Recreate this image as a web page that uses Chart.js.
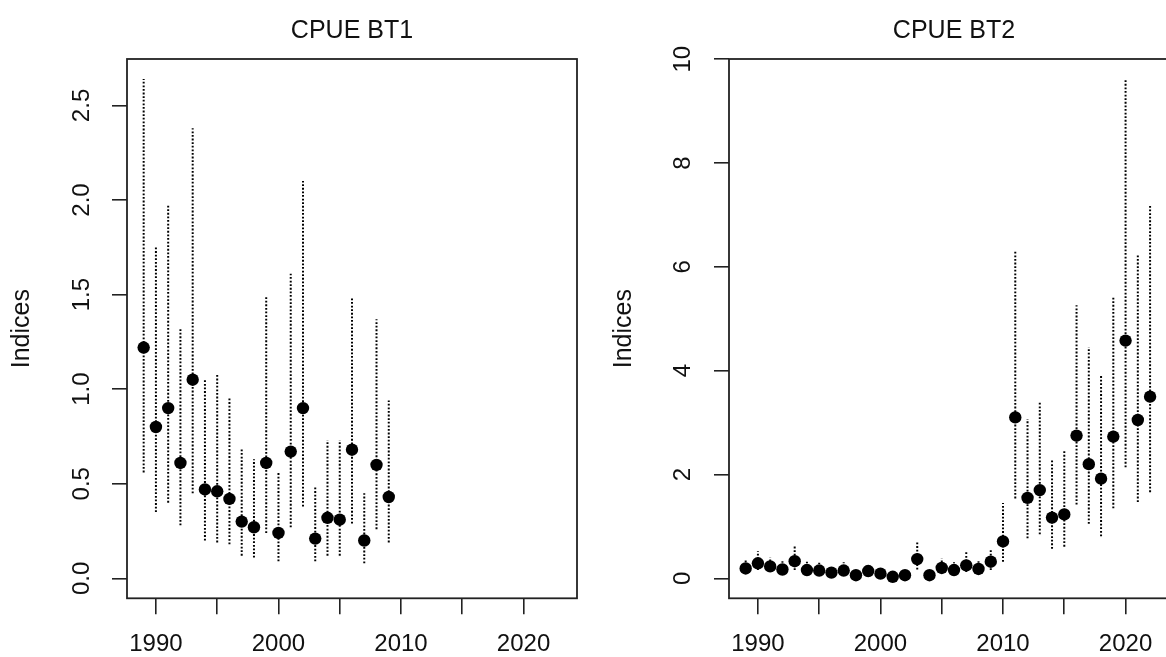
<!DOCTYPE html>
<html>
<head>
<meta charset="utf-8">
<title>CPUE BT1 / BT2</title>
<script src="https://cdn.jsdelivr.net/npm/chart.js@4.4.3/dist/chart.umd.min.js"></script>
<style>
  html, body { margin:0; padding:0; background:#fff; overflow:hidden; width:1166px; height:657px; }
  .panel { position:absolute; top:0; }
  #bt1 { left:0; }
  #bt2 { left:602px; }
</style>
</head>
<body>
<canvas id="bt1" class="panel" width="603" height="657"></canvas>
<canvas id="bt2" class="panel" width="603" height="657"></canvas>
<script>
/* CPUE indices with confidence intervals, two fleets side by side */

const bt1Years = [1989, 1990, 1991, 1992, 1993, 1994, 1995, 1996, 1997, 1998, 1999,
                  2000, 2001, 2002, 2003, 2004, 2005, 2006, 2007, 2008, 2009];
const bt1Index = [1.22, 0.80, 0.90, 0.61, 1.05, 0.47, 0.46, 0.42, 0.30, 0.27, 0.61,
                  0.24, 0.67, 0.90, 0.21, 0.32, 0.31, 0.68, 0.20, 0.60, 0.43];
const bt1Lower = [0.56, 0.35, 0.40, 0.28, 0.45, 0.20, 0.19, 0.18, 0.12, 0.11, 0.24,
                  0.09, 0.27, 0.38, 0.09, 0.12, 0.12, 0.29, 0.08, 0.26, 0.19];
const bt1Upper = [2.64, 1.75, 1.97, 1.32, 2.38, 1.05, 1.08, 0.96, 0.69, 0.63, 1.49,
                  0.56, 1.61, 2.10, 0.49, 0.73, 0.73, 1.48, 0.45, 1.37, 0.94];

const bt2Years = [1989, 1990, 1991, 1992, 1993, 1994, 1995, 1996, 1997, 1998, 1999,
                  2000, 2001, 2002, 2003, 2004, 2005, 2006, 2007, 2008, 2009, 2010,
                  2011, 2012, 2013, 2014, 2015, 2016, 2017, 2018, 2019, 2020, 2021, 2022];
const bt2Index = [0.19, 0.29, 0.23, 0.17, 0.33, 0.16, 0.15, 0.11, 0.15, 0.06, 0.14,
                  0.09, 0.03, 0.06, 0.37, 0.06, 0.20, 0.16, 0.25, 0.18, 0.32, 0.71,
                  3.10, 1.55, 1.70, 1.17, 1.23, 2.75, 2.20, 1.92, 2.73, 4.58, 3.05, 3.50];
const bt2Lower = [0.10, 0.16, 0.12, 0.09, 0.16, 0.08, 0.07, 0.05, 0.08, 0.02, 0.07,
                  0.04, 0.01, 0.02, 0.17, 0.02, 0.10, 0.08, 0.12, 0.09, 0.16, 0.32,
                  1.54, 0.77, 0.85, 0.57, 0.61, 1.42, 1.05, 0.81, 1.35, 2.14, 1.47, 1.66];
const bt2Upper = [0.37, 0.52, 0.40, 0.33, 0.62, 0.32, 0.30, 0.21, 0.31, 0.14, 0.26,
                  0.18, 0.08, 0.13, 0.70, 0.14, 0.38, 0.31, 0.50, 0.33, 0.56, 1.45,
                  6.30, 3.07, 3.40, 2.30, 2.47, 5.26, 4.45, 3.92, 5.44, 9.62, 6.25, 7.20];

const xLimits     = [1989, 2023];
const xTicks      = [1990, 1995, 2000, 2005, 2010, 2015, 2020];
const xLabelYears = [1990, 2000, 2010, 2020];
const bt1YTicks   = [0, 0.5, 1, 1.5, 2, 2.5];
const bt1YLabels  = ['0.0', '0.5', '1.0', '1.5', '2.0', '2.5'];
const bt2YTicks   = [0, 2, 4, 6, 8, 10];
const bt2YLabels  = ['0', '2', '4', '6', '8', '10'];

const FONT = "'Liberation Sans', Arial, Helvetica, sans-serif";
const INK  = '#111';

// axis range padded 4% each side, like base R graphics
function padRange(lo, hi) {
  const d = (hi - lo) * 0.04;
  return [lo - d, hi + d];
}

// vertical CI whiskers as one line dataset, broken by null points
function whiskers(years, lo, hi) {
  const pts = [];
  years.forEach((x, i) => {
    pts.push({ x, y: lo[i] }, { x, y: hi[i] }, { x, y: null });
  });
  return pts;
}

// frame round the plotting region
const boxPlugin = {
  id: 'box',
  afterDatasetsDraw(chart) {
    const { ctx, chartArea: a } = chart;
    ctx.save();
    ctx.strokeStyle = '#222';
    ctx.lineWidth = 1.8;
    ctx.strokeRect(a.left, a.top, a.right - a.left, a.bottom - a.top);
    ctx.restore();
  }
};

const tickGrid = len => ({ drawOnChartArea: false, drawTicks: true, tickLength: len, color: '#222', lineWidth: 1.6 });

function panel(id, title, years, idx, lo, hi, yTicks, yLabels, yPad) {
  const xr = padRange(xLimits[0], xLimits[1]);
  const yr = padRange(0, Math.max(...hi));
  return new Chart(document.getElementById(id), {
    type: 'scatter',
    data: {
      datasets: [
        { data: years.map((x, i) => ({ x, y: idx[i] })),
          backgroundColor: '#000', borderColor: '#000',
          pointRadius: 6.2, pointBorderWidth: 0, pointHoverRadius: 6.2 },
        { data: whiskers(years, lo, hi), showLine: true, spanGaps: false,
          borderColor: '#000', borderWidth: 2, borderDash: [1.8, 1.8],
          borderCapStyle: 'butt', pointRadius: 0, pointHoverRadius: 0 }
      ]
    },
    options: {
      responsive: false, animation: false, events: [],
      layout: { padding: { right: 26 } },
      plugins: {
        legend: { display: false },
        tooltip: { enabled: false },
        title: { display: true, text: title, fullSize: false, color: INK,
          font: { family: FONT, size: 25, weight: 'normal', lineHeight: 1.2 },
          padding: { top: 16, bottom: 13 } }
      },
      scales: {
        x: {
          type: 'linear', min: xr[0], max: xr[1],
          afterBuildTicks: s => { s.ticks = xTicks.map(v => ({ value: v })); },
          afterFit: s => { s.height = 58.7; },
          grid: tickGrid(16), border: { display: false },
          ticks: { autoSkip: false, maxRotation: 0, padding: 16, color: INK,
            font: { family: FONT, size: 24 },
            callback: v => xLabelYears.includes(v) ? String(v) : '' }
        },
        y: {
          type: 'linear', min: yr[0], max: yr[1],
          afterBuildTicks: s => { s.ticks = yTicks.map(v => ({ value: v })); },
          afterFit: s => { s.width = 127; },
          title: { display: true, text: 'Indices', color: INK,
            font: { family: FONT, size: 25 }, padding: { top: 7, bottom: 0 } },
          grid: tickGrid(15), border: { display: false },
          ticks: { minRotation: 90, maxRotation: 90, crossAlign: 'center', padding: yPad,
            color: INK, font: { family: FONT, size: 24 },
            callback: (v, i) => yLabels[i] }
        }
      }
    },
    plugins: [boxPlugin]
  });
}

panel('bt1', 'CPUE BT1', bt1Years, bt1Index, bt1Lower, bt1Upper, bt1YTicks, bt1YLabels, 13);
panel('bt2', 'CPUE BT2', bt2Years, bt2Index, bt2Lower, bt2Upper, bt2YTicks, bt2YLabels, 17);
</script>
</body>
</html>
